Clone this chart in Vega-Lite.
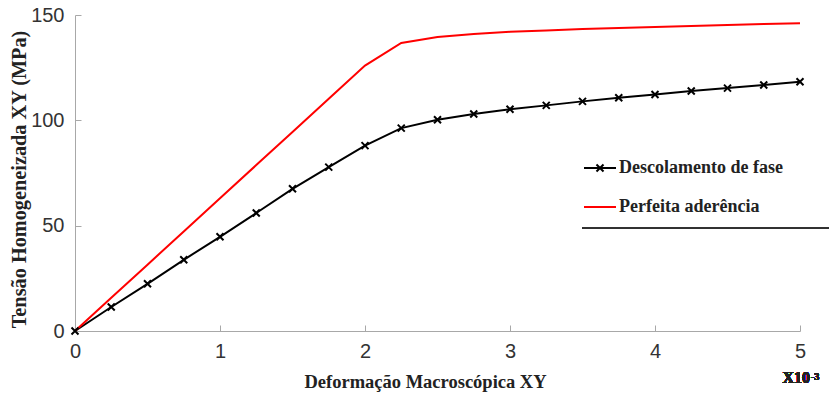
{
  "$schema": "https://vega.github.io/schema/vega-lite/v6.json",
  "autosize": "none",
  "width": 725,
  "height": 316,
  "padding": {"left": 75, "top": 15, "right": 29, "bottom": 63},
  "background": "white",
  "config": {
    "view": {"stroke": null},
    "axis": {
      "grid": false,
      "domainColor": "#a8a8a8",
      "domainWidth": 1,
      "tickColor": "#a8a8a8",
      "tickSize": -6,
      "labelFont": "Liberation Sans",
      "labelFontSize": 20,
      "labelColor": "#333333",
      "labelFlush": false,
      "labelOverlap": false,
      "titleFont": "Liberation Serif",
      "titleFontWeight": "bold",
      "titleFontSize": 18.5,
      "titleColor": "#222222"
    }
  },
  "data": {
    "values": [
      {"series": "Descolamento de fase", "x": 0, "y": 0},
      {"series": "Descolamento de fase", "x": 0.25, "y": 11.4},
      {"series": "Descolamento de fase", "x": 0.5, "y": 22.4},
      {"series": "Descolamento de fase", "x": 0.75, "y": 33.8},
      {"series": "Descolamento de fase", "x": 1, "y": 44.7},
      {"series": "Descolamento de fase", "x": 1.25, "y": 56},
      {"series": "Descolamento de fase", "x": 1.5, "y": 67.5},
      {"series": "Descolamento de fase", "x": 1.75, "y": 77.8},
      {"series": "Descolamento de fase", "x": 2, "y": 88},
      {"series": "Descolamento de fase", "x": 2.25, "y": 96.3},
      {"series": "Descolamento de fase", "x": 2.5, "y": 100.3},
      {"series": "Descolamento de fase", "x": 2.75, "y": 103},
      {"series": "Descolamento de fase", "x": 3, "y": 105.3},
      {"series": "Descolamento de fase", "x": 3.25, "y": 107.1},
      {"series": "Descolamento de fase", "x": 3.5, "y": 109},
      {"series": "Descolamento de fase", "x": 3.75, "y": 110.7},
      {"series": "Descolamento de fase", "x": 4, "y": 112.3},
      {"series": "Descolamento de fase", "x": 4.25, "y": 113.9},
      {"series": "Descolamento de fase", "x": 4.5, "y": 115.3},
      {"series": "Descolamento de fase", "x": 4.75, "y": 116.8},
      {"series": "Descolamento de fase", "x": 5, "y": 118.3},
      {"series": "Perfeita aderência", "x": 0, "y": 0},
      {"series": "Perfeita aderência", "x": 0.25, "y": 15.75},
      {"series": "Perfeita aderência", "x": 0.5, "y": 31.5},
      {"series": "Perfeita aderência", "x": 0.75, "y": 47.25},
      {"series": "Perfeita aderência", "x": 1, "y": 63},
      {"series": "Perfeita aderência", "x": 1.25, "y": 78.75},
      {"series": "Perfeita aderência", "x": 1.5, "y": 94.5},
      {"series": "Perfeita aderência", "x": 1.75, "y": 110.25},
      {"series": "Perfeita aderência", "x": 2, "y": 126},
      {"series": "Perfeita aderência", "x": 2.25, "y": 136.7},
      {"series": "Perfeita aderência", "x": 2.5, "y": 139.6},
      {"series": "Perfeita aderência", "x": 2.75, "y": 141},
      {"series": "Perfeita aderência", "x": 3, "y": 142},
      {"series": "Perfeita aderência", "x": 3.25, "y": 142.7},
      {"series": "Perfeita aderência", "x": 3.5, "y": 143.3},
      {"series": "Perfeita aderência", "x": 3.75, "y": 143.8},
      {"series": "Perfeita aderência", "x": 4, "y": 144.3},
      {"series": "Perfeita aderência", "x": 4.25, "y": 144.8},
      {"series": "Perfeita aderência", "x": 4.5, "y": 145.2},
      {"series": "Perfeita aderência", "x": 4.75, "y": 145.7},
      {"series": "Perfeita aderência", "x": 5, "y": 146.1}
    ]
  },
  "layer": [
    {
      "mark": {"type": "line", "strokeWidth": 2},
      "encoding": {
        "x": {
          "field": "x", "type": "quantitative",
          "scale": {"domain": [0, 5], "nice": false, "zero": false},
          "axis": {"values": [0, 1, 2, 3, 4, 5], "format": "d", "labelPadding": 16, "title": "Deformação Macroscópica XY", "titleX": 350, "titleY": 56, "titleBaseline": "alphabetic", "titleAlign": "center"}
        },
        "y": {
          "field": "y", "type": "quantitative",
          "scale": {"domain": [0, 150], "nice": false},
          "axis": {"values": [0, 50, 100, 150], "format": "d", "labelPadding": 17, "title": "Tensão Homogeneizada XY (MPa)", "titleFontSize": 20.3, "titleX": -50, "titleY": 164, "titleBaseline": "alphabetic", "titleAlign": "center", "titleAngle": -90}
        },
        "color": {
          "field": "series", "type": "nominal",
          "scale": {"domain": ["Descolamento de fase", "Perfeita aderência"], "range": ["#000000", "#ff0000"]},
          "legend": {
            "title": null,
            "orient": "none",
            "legendX": 508,
            "legendY": 136,
            "padding": 0,
            "symbolSize": 1024,
            "symbolStrokeWidth": 2,
            "symbolFillColor": "transparent",
            "labelFont": "Liberation Serif",
            "labelFontWeight": "bold",
            "labelFontSize": 18,
            "labelColor": "#222222",
            "labelOffset": 2,
            "labelLimit": 400,
            "rowPadding": 13,
            "encode": {
              "symbols": {
                "update": {
                  "shape": {"signal": "datum.value === 'Descolamento de fase' ? 'M-1,0H1M-0.22,-0.22L0.22,0.22M-0.22,0.22L0.22,-0.22' : 'M-1,0H1'"}
                }
              }
            }
          }
        }
      }
    },
    {
      "transform": [{"filter": "datum.series === 'Descolamento de fase'"}],
      "mark": {"type": "point", "shape": "M-1,-1L1,1M-1,1L1,-1", "filled": false, "stroke": "#000000", "strokeWidth": 2, "size": 49, "opacity": 1},
      "encoding": {
        "x": {"field": "x", "type": "quantitative"},
        "y": {"field": "y", "type": "quantitative"}
      }
    },
    {
      "mark": {"type": "rule", "color": "#333333", "strokeWidth": 1},
      "encoding": {
        "x": {"datum": 3.5},
        "x2": {"datum": 5.2},
        "y": {"datum": 49}
      }
    },
    {
      "mark": {"type": "text", "text": "X10", "font": "Liberation Serif", "fontWeight": "bold", "fontSize": 16, "align": "right", "baseline": "alphabetic", "dx": 10, "dy": 52, "color": "#222222"},
      "encoding": {"x": {"datum": 5}, "y": {"datum": 0}}
    },
    {
      "mark": {"type": "text", "text": "-3", "font": "Liberation Serif", "fontWeight": "bold", "fontSize": 10, "align": "left", "baseline": "alphabetic", "dx": 11, "dy": 49, "color": "#222222"},
      "encoding": {"x": {"datum": 5}, "y": {"datum": 0}}
    }
  ]
}
